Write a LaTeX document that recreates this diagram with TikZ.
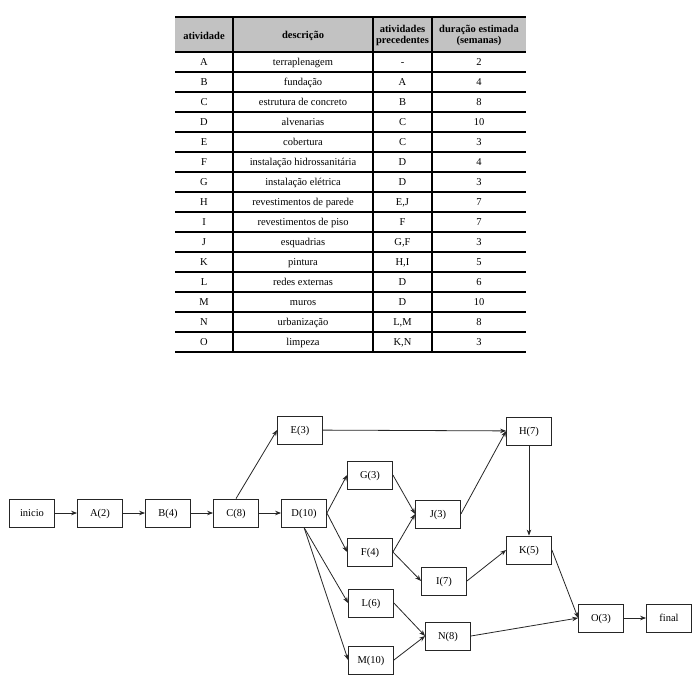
\documentclass[tikz,border=0pt]{standalone}
\usepackage{fontspec}
\setmainfont{Liberation Serif}
\usetikzlibrary{arrows.meta}
\definecolor{headgray}{gray}{0.76}
\begin{document}
\begin{tikzpicture}[x=1pt,y=-1pt,
  box/.style={draw=black!85,line width=0.8pt,minimum width=45pt,minimum height=28pt,inner sep=0pt,
    text height=8pt,text depth=0.2pt,font=\fontsize{10.5}{12}\selectfont},
  arr/.style={draw=black!85,line width=0.8pt,-{Stealth[length=6pt,width=4.5pt]}},
  cell/.style={font=\fontsize{10.5}{12}\selectfont,inner sep=0pt,text height=7.6pt,text depth=0.2pt},
  head/.style={font=\fontsize{10.5}{11.5}\selectfont\bfseries,inner sep=0pt,align=center},
  rule/.style={line width=1.5pt}]
\useasboundingbox (0,0) rectangle (696,681);
% tabela
\fill[headgray] (175,17) rectangle (526,52);
\node[head] (h1) at (204,35.5) {atividade};
\node[head] (h2) at (303,35.5) {descrição};
\node[head] (h3) at (402.5,35.5) {atividades\\precedentes};
\node[head] (h4) at (479,35.5) {duração estimada\\(semanas)};
\foreach \a/\d/\p/\t [count=\i] in {A/terraplenagem/-/2, B/fundação/A/4,
  C/estrutura de concreto/B/8, D/alvenarias/C/10, E/cobertura/C/3,
  F/instalação hidrossanitária/D/4, G/instalação elétrica/D/3,
  H/revestimentos de parede/{E,J}/7, I/revestimentos de piso/F/7,
  J/esquadrias/{G,F}/3, K/pintura/{H,I}/5, L/redes externas/D/6,
  M/muros/D/10, N/urbanização/{L,M}/8, O/limpeza/{K,N}/3}
{
  \node[cell] (a\i) at (204,42+20*\i) {\a};
  \node[cell] (d\i) at (303,42+20*\i) {\d};
  \node[cell] (p\i) at (402.5,42+20*\i) {\p};
  \node[cell] (t\i) at (479,42+20*\i) {\t};
}
\draw[rule] (175,17) -- (526,17);
\foreach \i in {0,...,15}
  \draw[rule] (175,52+20*\i) -- (526,52+20*\i);
\foreach \x in {233,373,432}
  \draw[rule] (\x,17) -- (\x,352);
% rede
\node[box] (ini) at (32,513) {inicio};
\node[box] (A) at (100,513) {A(2)};
\node[box] (B) at (168,513) {B(4)};
\node[box] (C) at (236,513) {C(8)};
\node[box] (D) at (304,513) {D(10)};
\node[box] (E) at (300,430) {E(3)};
\node[box] (G) at (370,475) {G(3)};
\node[box] (F) at (370,552) {F(4)};
\node[box] (L) at (371,603) {L(6)};
\node[box] (M) at (371,660) {M(10)};
\node[box] (J) at (438,514) {J(3)};
\node[box] (I) at (444,581) {I(7)};
\node[box] (N) at (448,636) {N(8)};
\node[box] (H) at (529,431) {H(7)};
\node[box] (K) at (529,550) {K(5)};
\node[box] (O) at (601,618) {O(3)};
\node[box] (fim) at (669,618) {final};
\foreach \s/\e in {ini/A, A/B, B/C, C/D, C.north/E.west, E/H,
  D.east/G.west, D.east/F.west, D.south/L.west, D.south/M.west,
  G.east/J.west, F.east/J.west, F.east/I.west, J.east/H.west,
  H/K, I.east/K.west, K.east/O.west, L.east/N.west, M.east/N.west,
  N.east/O.west, O/fim}
  \draw[arr] (\s) -- (\e);
\end{tikzpicture}
\end{document}
